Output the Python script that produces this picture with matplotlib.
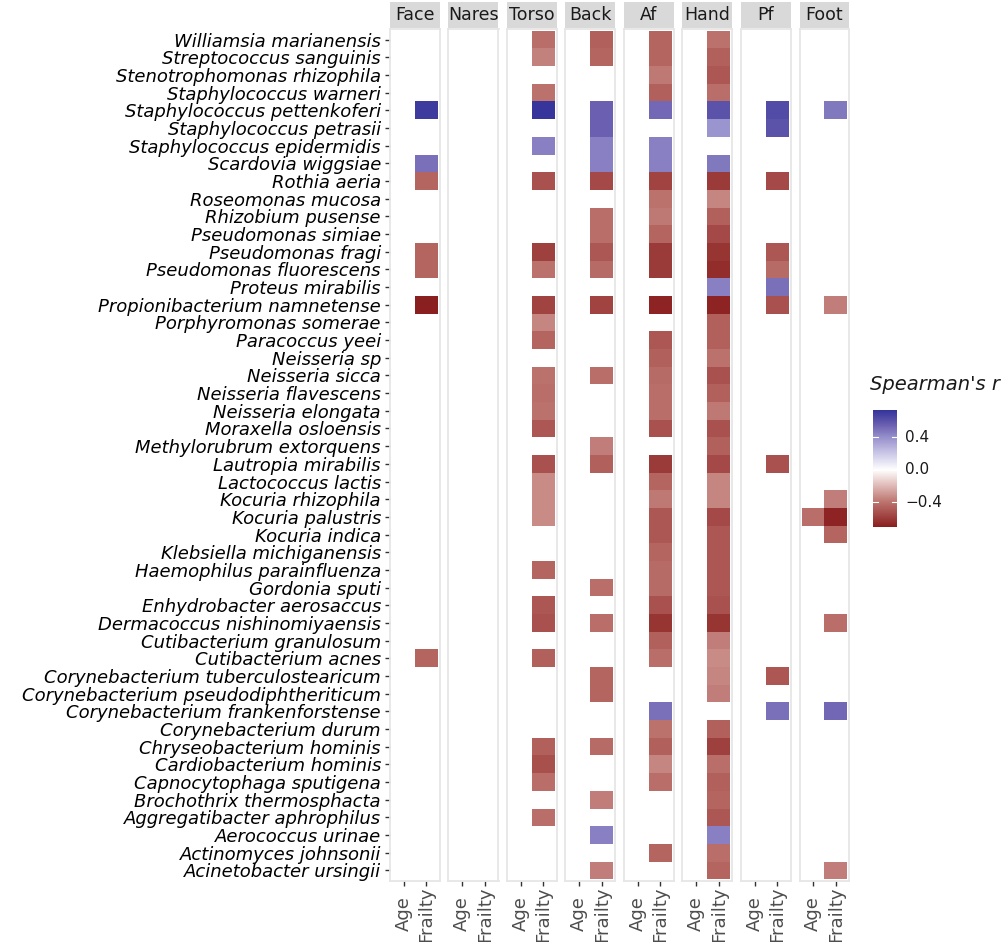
import matplotlib
matplotlib.use("Agg")
import matplotlib.pyplot as plt
import numpy as np
from matplotlib.colors import LinearSegmentedColormap, TwoSlopeNorm

NA = None

species = [
    "Williamsia marianensis", "Streptococcus sanguinis", "Stenotrophomonas rhizophila",
    "Staphylococcus warneri", "Staphylococcus pettenkoferi", "Staphylococcus petrasii",
    "Staphylococcus epidermidis", "Scardovia wiggsiae", "Rothia aeria", "Roseomonas mucosa",
    "Rhizobium pusense", "Pseudomonas simiae", "Pseudomonas fragi", "Pseudomonas fluorescens",
    "Proteus mirabilis", "Propionibacterium namnetense", "Porphyromonas somerae",
    "Paracoccus yeei", "Neisseria sp", "Neisseria sicca", "Neisseria flavescens",
    "Neisseria elongata", "Moraxella osloensis", "Methylorubrum extorquens",
    "Lautropia mirabilis", "Lactococcus lactis", "Kocuria rhizophila", "Kocuria palustris",
    "Kocuria indica", "Klebsiella michiganensis", "Haemophilus parainfluenza",
    "Gordonia sputi", "Enhydrobacter aerosaccus", "Dermacoccus nishinomiyaensis",
    "Cutibacterium granulosum", "Cutibacterium acnes", "Corynebacterium tuberculostearicum",
    "Corynebacterium pseudodiphtheriticum", "Corynebacterium frankenforstense",
    "Corynebacterium durum", "Chryseobacterium hominis", "Cardiobacterium hominis",
    "Capnocytophaga sputigena", "Brochothrix thermosphacta", "Aggregatibacter aphrophilus",
    "Aerococcus urinae", "Actinomyces johnsonii", "Acinetobacter ursingii",
]

sites = ["Face", "Nares", "Torso", "Back", "Af", "Hand", "Pf", "Foot"]
variables = ["Age", "Frailty"]

# Spearman's r for Frailty, one list per site, in the species order above
face_frailty = [
    NA, NA, NA, NA, 0.70, NA, NA, 0.50,
    -0.45, NA, NA, NA, -0.45, -0.45, NA, -0.70,
    NA, NA, NA, NA, NA, NA, NA, NA,
    NA, NA, NA, NA, NA, NA, NA, NA,
    NA, NA, NA, -0.45, NA, NA, NA, NA,
    NA, NA, NA, NA, NA, NA, NA, NA,
]
nares_frailty = [NA] * 48
torso_frailty = [
    -0.42, -0.36, NA, -0.40, 0.72, NA, 0.45, NA,
    -0.52, NA, NA, NA, -0.58, -0.40, NA, -0.57,
    -0.35, -0.45, NA, -0.40, -0.42, -0.40, -0.50, NA,
    -0.52, -0.33, -0.33, -0.33, NA, NA, -0.45, NA,
    -0.50, -0.52, NA, -0.47, NA, NA, NA, NA,
    -0.47, -0.53, -0.42, NA, -0.42, NA, NA, NA,
]
back_frailty = [
    -0.47, -0.45, NA, NA, 0.55, 0.55, 0.45, 0.45,
    -0.55, NA, -0.42, -0.42, -0.50, -0.43, NA, -0.57,
    NA, NA, NA, -0.42, NA, NA, NA, -0.37,
    -0.47, NA, NA, NA, NA, NA, NA, -0.42,
    NA, -0.42, NA, NA, -0.45, -0.45, NA, NA,
    -0.43, NA, NA, -0.37, NA, 0.45, NA, -0.37,
]
af_frailty = [
    -0.45, -0.45, -0.38, -0.47, 0.52, NA, 0.45, 0.45,
    -0.57, -0.40, -0.38, -0.45, -0.60, -0.60, NA, -0.68,
    NA, -0.50, -0.47, -0.43, -0.42, -0.42, -0.52, NA,
    -0.60, -0.45, -0.38, -0.50, -0.50, -0.45, -0.43, -0.43,
    -0.52, -0.62, -0.47, -0.42, NA, NA, 0.50, -0.40,
    -0.47, -0.35, -0.42, NA, NA, NA, -0.45, NA,
]
hand_frailty = [
    -0.40, -0.47, -0.50, -0.42, 0.60, 0.38, NA, 0.47,
    -0.60, -0.35, -0.47, -0.55, -0.62, -0.65, 0.45, -0.68,
    -0.47, -0.47, -0.40, -0.52, -0.47, -0.38, -0.52, -0.47,
    -0.55, -0.35, -0.35, -0.55, -0.50, -0.50, -0.50, -0.50,
    -0.52, -0.62, -0.37, -0.33, -0.35, -0.37, NA, -0.47,
    -0.58, -0.42, -0.47, -0.45, -0.50, 0.45, -0.42, -0.45,
]
pf_frailty = [
    NA, NA, NA, NA, 0.63, 0.60, NA, NA,
    -0.55, NA, NA, NA, -0.50, -0.43, 0.50, -0.52,
    NA, NA, NA, NA, NA, NA, NA, NA,
    -0.52, NA, NA, NA, NA, NA, NA, NA,
    NA, NA, NA, NA, -0.50, NA, 0.50, NA,
    NA, NA, NA, NA, NA, NA, NA, NA,
]
foot_frailty = [
    NA, NA, NA, NA, 0.47, NA, NA, NA,
    NA, NA, NA, NA, NA, NA, NA, -0.37,
    NA, NA, NA, NA, NA, NA, NA, NA,
    NA, NA, -0.37, -0.68, -0.45, NA, NA, NA,
    NA, -0.42, NA, NA, NA, NA, 0.53, NA,
    NA, NA, NA, NA, NA, NA, NA, -0.37,
]
# Age: only one significant cell
foot_age = [NA] * 48
foot_age[27] = -0.42

frailty = [face_frailty, nares_frailty, torso_frailty, back_frailty,
           af_frailty, hand_frailty, pf_frailty, foot_frailty]
age = [[NA] * 48 for _ in sites[:-1]] + [foot_age]

vmin, vmax = -0.70, 0.73
nodes = [(-0.70, "#8a1f1f"), (-0.55, "#a44a47"), (-0.40, "#bc736e"),
         (-0.20, "#dfb9b6"), (0.0, "#ffffff"), (0.20, "#cbc8e7"),
         (0.40, "#9690cc"), (0.55, "#6b60b0"), (0.73, "#35349b")]
norm = TwoSlopeNorm(vmin=vmin, vcenter=0.0, vmax=vmax)
cmap = LinearSegmentedColormap.from_list(
    "sp", [(float(norm(v)), c) for v, c in nodes])

W, H = 1003, 942
fig = plt.figure(figsize=(W / 100, H / 100), dpi=100)
fig.patch.set_facecolor("white")


def box(x0, y0, x1, y1):
    return [x0 / W, 1 - y1 / H, (x1 - x0) / W, (y1 - y0) / H]


n = len(species)
ypos = np.arange(n)[::-1] + 1  # first species on top
panel_top, panel_bot = 29, 881

for i, site in enumerate(sites):
    x0 = 390 + 58.5 * i
    ax = fig.add_axes(box(x0, panel_top, x0 + 50, panel_bot))
    ax.set_xlim(0.4, 2.6)
    ax.set_ylim(0.4, n + 0.6)
    for sp in ax.spines.values():
        sp.set_color("#e6e6e6")
        sp.set_linewidth(1.3)
    for j, col in enumerate([age[i], frailty[i]]):
        for k, v in enumerate(col):
            if v is None:
                continue
            ax.add_patch(plt.Rectangle((j + 0.5, ypos[k] - 0.5), 1, 1,
                                       facecolor=cmap(norm(v)), edgecolor="none"))
    ax.set_xticks([1, 2])
    ax.set_xticklabels([])
    ax.tick_params(axis="x", length=3.5, color="#333333", width=1)
    for j, lab in enumerate(variables):
        ax.text(j + 1, -0.0387, lab, transform=ax.get_xaxis_transform(),
                rotation=90, ha="center", va="center", fontsize=13,
                color="#4d4d4d")
    if i == 0:
        ax.set_yticks(ypos)
        ax.set_yticklabels(species, fontsize=13, style="italic", color="black")
        ax.tick_params(axis="y", length=3.5, color="#333333", width=1, pad=3)
    else:
        ax.set_yticks([])

    sax = fig.add_axes(box(x0, 2, x0 + 50, 28))
    sax.set_facecolor("#d9d9d9")
    sax.set_xticks([])
    sax.set_yticks([])
    for sp in sax.spines.values():
        sp.set_visible(False)
    sax.text(0.5, 0.5, site, ha="center", va="center", fontsize=12.5,
             color="#1a1a1a", transform=sax.transAxes)

# colour bar
cax = fig.add_axes(box(873, 410, 897, 527))
grad = np.linspace(vmin, vmax, 300).reshape(-1, 1)
cax.imshow(grad, aspect="auto", origin="lower", cmap=cmap, norm=norm,
           extent=[0, 1, vmin, vmax])
cax.set_xticks([])
cax.set_yticks([])
for sp in cax.spines.values():
    sp.set_visible(False)
for t in [0.4, 0.0, -0.4]:
    cax.plot([0, 0.2], [t, t], color="white", lw=0.8)
    cax.plot([0.8, 1], [t, t], color="white", lw=0.8)
    cax.text(1.33, t, f"{t:.1f}".replace("-", "\u2212"), ha="left", va="center",
             fontsize=11, color="#1a1a1a", transform=cax.get_yaxis_transform())
cax.set_xlim(0, 1)
cax.set_ylim(vmin, vmax)
fig.text(870 / W, 1 - 385 / H, "Spearman's r", fontsize=14, style="italic",
         ha="left", va="center", color="#1a1a1a")

fig.savefig("out.png", dpi=100)
